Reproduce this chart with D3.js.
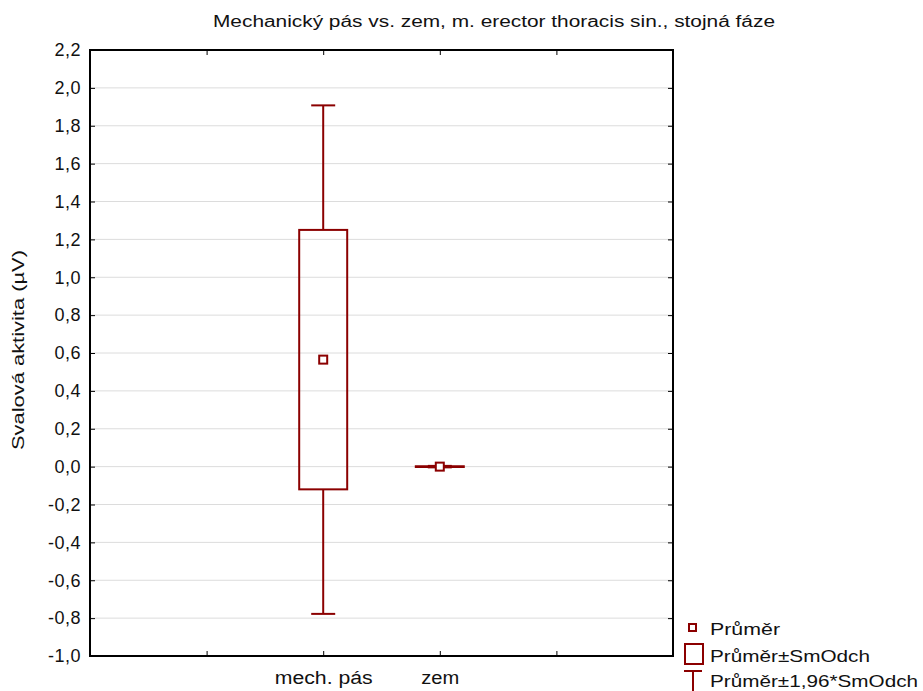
<!DOCTYPE html>
<html><head><meta charset="utf-8">
<script src="https://cdn.jsdelivr.net/npm/d3@7"></script>
<style>body{margin:0;background:#fff}svg{display:block}text{font-family:"Liberation Sans",Arial,sans-serif}</style>
</head><body>
<script>
const categories = ["", "mech. pás", "zem", ""];
const means = [null, 0.565, 0.0, null];
const sds = [null, 0.685, 0.002, null];
const yTicks = [-1.0,-0.8,-0.6,-0.4,-0.2,0.0,0.2,0.4,0.6,0.8,1.0,1.2,1.4,1.6,1.8,2.0,2.2];
const legendLabels = ["Průměr", "Průměr±SmOdch", "Průměr±1,96*SmOdch"];
const title = "Mechanický pás vs. zem, m. erector thoracis sin., stojná fáze";
const yLabel = "Svalová aktivita (µV)";
const color = "#8b0000";

const W = 923, H = 691;
const L = 90, R = 673, T = 50, B = 656;
const svg = d3.select("body").append("svg").attr("width", W).attr("height", H);

const y = d3.scaleLinear().domain([-1.0, 2.2]).range([B, T]);
const x = d3.scaleLinear().domain([0, 5]).range([L, R]);
const fmt = v => d3.format(".1f")(v).replace(".", ",").replace("−", "-");

// grid
svg.append("g").selectAll("line").data(yTicks.slice(1, -1)).join("line")
  .attr("x1", L).attr("x2", R).attr("y1", d => y(d)).attr("y2", d => y(d))
  .attr("stroke", "#dcdcdc").attr("stroke-width", 1);

// axes
const yAxis = d3.axisLeft(y).tickValues(yTicks).tickFormat(fmt).tickSizeInner(-5).tickSizeOuter(0).tickPadding(10);
const gy = svg.append("g").attr("transform", `translate(${L},0)`).call(yAxis);
gy.select(".domain").remove();
gy.selectAll("line").attr("stroke", "#000");
gy.selectAll("text").attr("font-size", 18).attr("letter-spacing", 0.5).attr("fill", "#111").attr("x", -9);

const gyr = svg.append("g").attr("transform", `translate(${R},0)`).call(d3.axisRight(y).tickValues(yTicks).tickFormat("").tickSizeInner(-5).tickSizeOuter(0));
gyr.select(".domain").remove();
gyr.selectAll("line").attr("stroke", "#000");

const xTickVals = [1,2,3,4];
const xLabelLen = [0, 98, 38, 0];
const gx = svg.append("g").attr("transform", `translate(0,${B})`)
  .call(d3.axisBottom(x).tickValues(xTickVals).tickFormat(d => categories[d-1]).tickSizeInner(-5).tickSizeOuter(0).tickPadding(15));
gx.select(".domain").remove();
gx.selectAll("line").attr("stroke", "#000");
gx.selectAll("text").attr("font-size", 18).attr("fill", "#111")
  .each(function(d){ if (xLabelLen[d-1]) d3.select(this).attr("textLength", xLabelLen[d-1]).attr("lengthAdjust", "spacingAndGlyphs"); });

const gxt = svg.append("g").attr("transform", `translate(0,${T})`)
  .call(d3.axisTop(x).tickValues(xTickVals).tickFormat("").tickSizeInner(-5).tickSizeOuter(0));
gxt.select(".domain").remove();
gxt.selectAll("line").attr("stroke", "#000");

svg.append("rect").attr("x", L).attr("y", T).attr("width", R-L).attr("height", B-T)
  .attr("fill", "none").attr("stroke", "#000").attr("stroke-width", 2);

// boxes
const boxW = 48, capW = 24;
const data = categories.map((c,i) => ({i, c, m: means[i], s: sds[i]})).filter(d => d.m !== null);
const g = svg.append("g").attr("stroke", color).attr("stroke-width", 2).attr("fill", "none");
data.forEach(d => {
  const cx = x(d.i + 1);
  const lo = d.m - 1.96*d.s, hi = d.m + 1.96*d.s;
  const b0 = d.m - d.s, b1 = d.m + d.s;
  g.append("line").attr("x1", cx).attr("x2", cx).attr("y1", y(hi)).attr("y2", y(b1));
  g.append("line").attr("x1", cx).attr("x2", cx).attr("y1", y(b0)).attr("y2", y(lo));
  g.append("line").attr("x1", cx-capW/2).attr("x2", cx+capW/2).attr("y1", y(hi)).attr("y2", y(hi));
  g.append("line").attr("x1", cx-capW/2).attr("x2", cx+capW/2).attr("y1", y(lo)).attr("y2", y(lo));
  g.append("rect").attr("x", cx-boxW/2).attr("width", boxW).attr("y", y(b1)).attr("height", Math.max(0, y(b0)-y(b1)));
  g.append("rect").attr("x", cx-4).attr("y", y(d.m)-4).attr("width", 8).attr("height", 8).attr("fill", "#fff");
});

// title
svg.append("text").attr("x", 494).attr("y", 27).attr("text-anchor", "middle")
  .attr("font-size", 16).attr("fill", "#111").attr("textLength", 562).attr("lengthAdjust", "spacingAndGlyphs").text(title);

// y label
svg.append("text").attr("transform", `translate(24,350) rotate(-90)`).attr("text-anchor", "middle")
  .attr("font-size", 17).attr("fill", "#111").attr("textLength", 200).attr("lengthAdjust", "spacingAndGlyphs").text(yLabel);

// legend
const lg = svg.append("g");
lg.append("rect").attr("x", 689).attr("y", 624).attr("width", 7).attr("height", 7)
  .attr("fill", "none").attr("stroke", color).attr("stroke-width", 2);
lg.append("rect").attr("x", 685).attr("y", 644).attr("width", 18).attr("height", 20)
  .attr("fill", "none").attr("stroke", color).attr("stroke-width", 2);
lg.append("line").attr("x1", 684).attr("x2", 702).attr("y1", 671).attr("y2", 671).attr("stroke", color).attr("stroke-width", 2);
lg.append("line").attr("x1", 693).attr("x2", 693).attr("y1", 671).attr("y2", 691).attr("stroke", color).attr("stroke-width", 2);
const ly = [635, 662, 687];
const legLen = [70, 160, 208];
legendLabels.forEach((t, i) => lg.append("text").attr("x", 710).attr("y", ly[i]).attr("font-size", 17)
  .attr("fill", "#111").attr("textLength", legLen[i]).attr("lengthAdjust", "spacingAndGlyphs").text(t));
</script>
</body></html>
